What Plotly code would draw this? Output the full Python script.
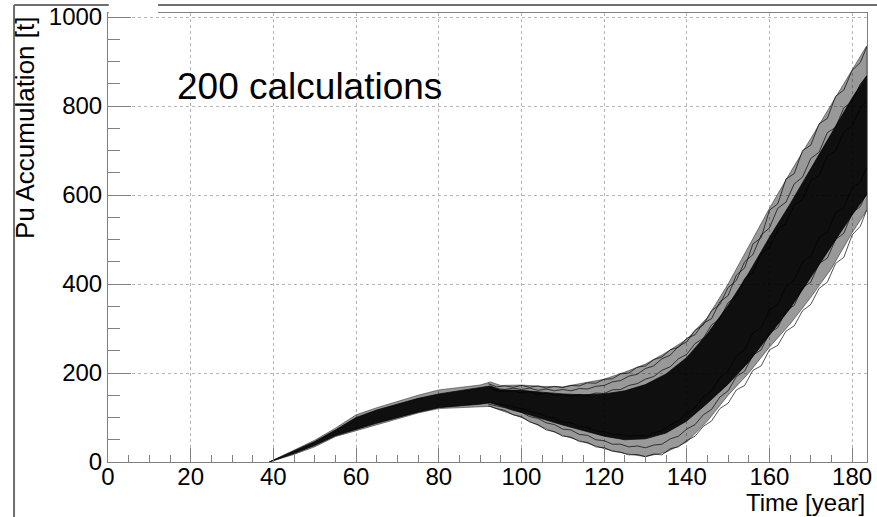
import plotly.graph_objects as go

# ---------------- data ----------------
years_env = [39, 45, 50, 55, 60, 65, 70, 75, 80, 85, 90, 92.5, 95, 100, 105, 110, 115, 120,
             125, 130, 135, 140, 145, 150, 155, 160, 165, 170, 175, 180, 183.5]
upper_env = [0, 27, 49, 76, 106, 122, 136, 150, 162, 168, 173, 180, 172, 173, 170, 169, 177, 186,
             202, 220, 246, 276, 325, 400, 485, 570, 650, 727, 805, 880, 935]
lower_env = [0, 17, 34, 57, 70, 84, 97, 110, 120, 122, 124, 125, 116, 100, 78, 60, 45, 30,
             19, 12, 22, 45, 92, 150, 200, 258, 310, 370, 435, 515, 565]
core_top = [0, 25, 46, 72, 100, 117, 130, 143, 153, 160, 166, 171, 162, 161, 157, 153, 151, 153,
            160, 174, 198, 235, 288, 352, 425, 505, 580, 660, 740, 818, 868]
core_bot = [0, 19, 37, 59, 73, 87, 100, 112, 122, 126, 130, 133, 126, 112, 97, 83, 70, 58,
            50, 52, 65, 92, 132, 175, 225, 285, 345, 415, 485, 555, 600]

years_run = [92, 94, 96, 98, 100, 102, 104, 106, 108, 110, 112, 114, 116, 118, 120, 122, 124,
             126, 128, 130, 132, 134, 136, 138, 140, 142, 144, 146, 148, 150, 152, 154, 156,
             158, 160, 162, 164, 166, 168, 170, 172, 174, 176, 178, 180, 182, 183.5]
run_a = [176, 169, 171, 168, 172, 168, 171, 166, 170, 167, 172, 171, 178, 177, 186, 187, 198,
         200, 213, 216, 230, 236, 252, 258, 278, 286, 312, 322, 360, 374, 420, 436, 490,
         504, 566, 580, 636, 648, 700, 712, 760, 772, 822, 836, 880, 898, 932]
run_b = [170, 165, 163, 166, 163, 166, 161, 164, 160, 163, 160, 165, 164, 170, 172, 180, 183,
         193, 197, 210, 216, 232, 240, 260, 270, 296, 308, 340, 354, 392, 408, 450, 466,
         510, 526, 570, 584, 625, 640, 682, 696, 740, 752, 796, 810, 850, 866]
run_c = [166, 160, 158, 160, 155, 158, 152, 155, 150, 152, 148, 152, 150, 155, 154, 162, 163,
         172, 176, 186, 192, 206, 214, 232, 242, 266, 278, 308, 322, 358, 372, 412, 426,
         468, 482, 522, 536, 578, 590, 632, 644, 688, 700, 742, 756, 796, 812]
run_d = [126, 120, 116, 106, 102, 90, 84, 72, 68, 58, 56, 46, 44, 34, 32, 24, 22,
         16, 17, 12, 18, 16, 30, 34, 48, 58, 80, 92, 120, 132, 162, 172, 206,
         216, 252, 262, 294, 306, 340, 354, 390, 404, 446, 460, 510, 530, 566]
run_e = [130, 126, 122, 116, 112, 102, 98, 88, 84, 74, 72, 62, 60, 50, 48, 40, 40,
         34, 36, 32, 38, 40, 52, 58, 74, 84, 106, 118, 146, 160, 192, 204, 240,
         252, 290, 302, 340, 352, 392, 404, 446, 458, 500, 514, 560, 574, 606]
run_f = [134, 130, 128, 124, 120, 114, 110, 102, 98, 90, 88, 80, 78, 70, 68, 62, 62,
         58, 60, 58, 66, 70, 84, 92, 110, 122, 146, 160, 190, 204, 238, 252, 290,
         302, 342, 354, 394, 408, 450, 462, 504, 516, 560, 572, 616, 630, 662]
runs = [run_a, run_b, run_c, run_d, run_e, run_f]

x_ticks = [0, 20, 40, 60, 80, 100, 120, 140, 160, 180]
y_ticks = [0, 200, 400, 600, 800, 1000]

FONT = "Liberation Sans, Arial, Helvetica, sans-serif"
AX = "#808080"

fig = go.Figure()

# outer spread of the 200 runs
fig.add_trace(go.Scatter(
    x=years_env + years_env[::-1], y=upper_env + lower_env[::-1],
    fill="toself", fillcolor="rgba(0,0,0,0.40)", mode="lines",
    line=dict(color="rgba(0,0,0,0.55)", width=0.8), hoverinfo="skip", showlegend=False))
# dense core
fig.add_trace(go.Scatter(
    x=years_env + years_env[::-1], y=core_top + core_bot[::-1],
    fill="toself", fillcolor="rgba(0,0,0,0.9)", mode="lines",
    line=dict(color="rgba(0,0,0,0.85)", width=0.8), hoverinfo="skip", showlegend=False))
# individual visible runs at the edges
for r in runs:
    fig.add_trace(go.Scatter(x=years_run, y=r, mode="lines",
                             line=dict(color="rgba(0,0,0,0.85)", width=0.8),
                             hoverinfo="skip", showlegend=False))

axis_common = dict(
    showline=True, linecolor=AX, linewidth=1, mirror=True,
    ticks="inside", tickcolor=AX, tickwidth=1,
    showgrid=True, gridcolor="#b5b5b5", griddash="dot", gridwidth=1,
    zeroline=False, tickfont=dict(family=FONT, size=24, color="black"),
)

fig.update_layout(
    width=877, height=517,
    margin=dict(l=108, r=10, t=13, b=55, autoexpand=False),
    paper_bgcolor="white", plot_bgcolor="white",
    font=dict(family=FONT, color="black"),
    xaxis=dict(range=[0, 183.6], tickvals=x_ticks, ticklen=14, automargin=False,
               ticklabelstandoff=-7,
               minor=dict(dtick=5, tick0=0, ticks="inside", ticklen=7, tickcolor=AX, showgrid=False),
               **axis_common),
    yaxis=dict(range=[0, 1009], tickvals=y_ticks, ticklen=23, automargin=False,
               minor=dict(dtick=50, tick0=0, ticks="inside", ticklen=12, tickcolor=AX, showgrid=False),
               **axis_common),
    annotations=[
        dict(text="Time [year]", xref="paper", yref="paper", x=1.0, y=-0.0905,
             xanchor="right", yanchor="middle", showarrow=False,
             font=dict(family=FONT, size=24, color="black")),
        dict(text="Pu Accumulation [t]", xref="paper", yref="paper", x=-0.109, y=0.997,
             xanchor="center", yanchor="top", textangle=-90, showarrow=False,
             font=dict(family=FONT, size=26, color="black")),
        dict(text="200 calculations", xref="x", yref="y", x=16.2, y=843,
             xanchor="left", yanchor="middle", showarrow=False,
             font=dict(family=FONT, size=37, color="black")),
    ],
    shapes=[
        dict(type="line", xref="paper", yref="paper", x0=-0.1238, x1=-0.1238, y0=-0.13, y1=1.0178,
             line=dict(color="#6e6e6e", width=2)),
        dict(type="line", xref="paper", yref="paper", x0=-0.1238, x1=1.02, y0=1.0178, y1=1.0178,
             line=dict(color="#6e6e6e", width=2)),
        dict(type="rect", xref="paper", yref="paper", x0=0.001, x1=0.066, y0=0.9995, y1=1.04,
             fillcolor="white", line=dict(width=0), layer="above"),
    ],
)

fig.write_html("out.html", config={"displayModeBar": False},
               post_script="document.body.style.margin='0';document.body.style.overflow='hidden';")
